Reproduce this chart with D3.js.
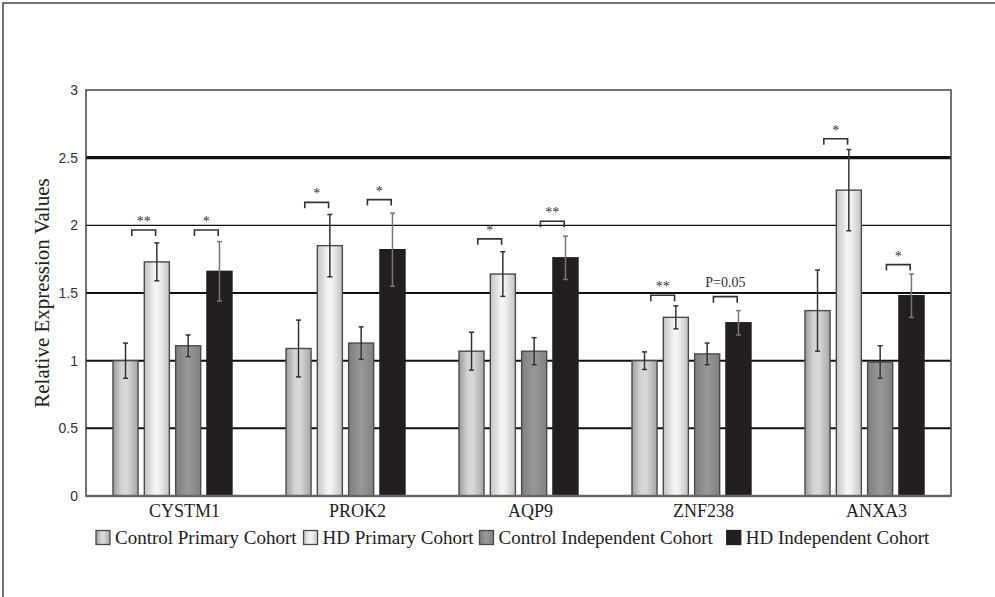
<!DOCTYPE html>
<html>
<head>
<meta charset="utf-8">
<script src="https://cdn.jsdelivr.net/npm/d3@7"></script>
<style>
	body { margin: 0; background: #fff; }
	svg { display: block; }
	.serif { font-family: "Liberation Serif", "Times New Roman", serif; }
	.sans { font-family: "Liberation Sans", Arial, sans-serif; }
</style>
</head>
<body>
<div id="chart"></div>
<script>
/* gene expression bar chart, four cohorts per gene */
var genes = ["CYSTM1", "PROK2", "AQP9", "ZNF238", "ANXA3"];
var cohorts = ["Control Primary Cohort", "HD Primary Cohort", "Control Independent Cohort", "HD Independent Cohort"];

// values per cohort, in gene order
var controlPrimary = [1.00, 1.09, 1.07, 1.00, 1.37];
var hdPrimary = [1.73, 1.85, 1.64, 1.32, 2.26];
var controlIndep = [1.11, 1.13, 1.07, 1.05, 0.99];
var hdIndep = [1.66, 1.82, 1.76, 1.28, 1.48];

// error bar half widths
var controlPrimaryErr = [0.13, 0.21, 0.14, 0.065, 0.30];
var hdPrimaryErr = [0.14, 0.23, 0.165, 0.085, 0.30];
var controlIndepErr = [0.08, 0.12, 0.10, 0.08, 0.12];
var hdIndepErr = [0.22, 0.27, 0.16, 0.09, 0.16];

var yTicks = [0, 0.5, 1, 1.5, 2, 2.5, 3];
var yTickLabels = ["0", "0.5", "1", "1.5", "2", "2.5", "3"];

// significance brackets: gene, from cohort, to cohort, height, label
var sigGene = ["CYSTM1", "CYSTM1", "PROK2", "PROK2", "AQP9", "AQP9", "ZNF238", "ZNF238", "ANXA3", "ANXA3"];
var sigFrom = [0, 2, 0, 2, 0, 2, 0, 2, 0, 2];
var sigTo = [1, 3, 1, 3, 1, 3, 1, 3, 1, 3];
var sigY = [1.965, 1.965, 2.17, 2.19, 1.90, 2.03, 1.483, 1.473, 2.64, 1.71];
var sigLabel = ["**", "*", "*", "*", "*", "**", "**", "P=0.05", "*", "*"];

var values = [controlPrimary, hdPrimary, controlIndep, hdIndep];
var errors = [controlPrimaryErr, hdPrimaryErr, controlIndepErr, hdIndepErr];

var width = 995, height = 597;
var plotLeft = 86, plotRight = 951, plotTop = 90, plotBottom = 496;

var svg = d3.select("#chart").append("svg")
	.attr("width", width)
	.attr("height", height);

// gradients for the shaded bars
var defs = svg.append("defs");
var gradStops = [
	[["0", "#9c9c9c"], ["0.35", "#d4d4d4"], ["0.55", "#d9d9d9"], ["1", "#a6a6a6"]],
	[["0", "#c4c4c4"], ["0.45", "#f6f6f6"], ["0.6", "#f0f0f0"], ["1", "#c2c2c2"]],
	[["0", "#7e7e7e"], ["0.5", "#999999"], ["1", "#808080"]],
	[["0", "#231f20"], ["1", "#231f20"]]
];
gradStops.forEach(function(stops, i) {
	var g = defs.append("linearGradient")
		.attr("id", "grad" + i)
		.attr("x1", 0).attr("x2", 1).attr("y1", 0).attr("y2", 0);
	stops.forEach(function(s) {
		g.append("stop").attr("offset", s[0]).attr("stop-color", s[1]);
	});
});

// outer frame (only top and left edge show)
svg.append("rect")
	.attr("x", 3).attr("y", 3)
	.attr("width", width + 10).attr("height", height + 10)
	.attr("fill", "none")
	.attr("stroke", "#444")
	.attr("stroke-width", 1.5);

var x0 = d3.scaleBand()
	.domain(genes)
	.range([plotLeft, plotRight])
	.padding(0);

var x1 = d3.scaleBand()
	.domain(d3.range(cohorts.length))
	.range([27, x0.bandwidth() - 27])
	.paddingInner(0.2)
	.paddingOuter(0);

var y = d3.scaleLinear()
	.domain([0, 3])
	.range([plotBottom, plotTop]);

var bw = x1.bandwidth();

// gridlines
var gridWidth = { 0.5: 2, 1: 2, 1.5: 2, 2: 1.2, 2.5: 3.2 };
svg.append("g").selectAll("line")
	.data(yTicks.filter(function(d) { return d > 0 && d < 3; }))
	.enter()
	.append("line")
	.attr("x1", plotLeft).attr("x2", plotRight)
	.attr("y1", function(d) { return y(d); })
	.attr("y2", function(d) { return y(d); })
	.attr("stroke", "#111")
	.attr("stroke-width", function(d) { return gridWidth[d]; });

// y axis tick labels
var yAxis = d3.axisLeft(y)
	.tickValues(yTicks)
	.tickFormat(function(d, i) { return yTickLabels[i]; })
	.tickSize(0)
	.tickPadding(8);

var ya = svg.append("g")
	.attr("transform", "translate(" + plotLeft + ",0)")
	.call(yAxis);
ya.attr("font-family", null).attr("font-size", null);
ya.select(".domain").remove();
ya.selectAll("text")
	.attr("class", "sans")
	.style("font-size", "14px")
	.attr("fill", "#333");

// bars
var groups = svg.append("g").selectAll("g")
	.data(genes)
	.enter()
	.append("g")
	.attr("transform", function(d) { return "translate(" + x0(d) + ",0)"; });

function barData(d, gi) {
	return values.map(function(v, si) { return { s: si, v: v[gi], e: errors[si][gi] }; });
}

groups.selectAll("rect")
	.data(barData)
	.enter()
	.append("rect")
	.attr("x", function(d) { return x1(d.s); })
	.attr("y", function(d) { return y(d.v); })
	.attr("width", bw)
	.attr("height", function(d) { return y(0) - y(d.v); })
	.attr("fill", function(d) { return "url(#grad" + d.s + ")"; })
	.attr("stroke", function(d) { return d.s == 3 ? "#231f20" : "#4a4a4a"; })
	.attr("stroke-width", 1.4);

// error bars
var errs = groups.selectAll("g.err")
	.data(barData)
	.enter()
	.append("g")
	.attr("class", "err")
	.attr("stroke", function(d) { return d.s == 3 ? "#777" : "#333"; })
	.attr("stroke-width", 1.5);

errs.append("line")
	.attr("x1", function(d) { return x1(d.s) + bw / 2; })
	.attr("x2", function(d) { return x1(d.s) + bw / 2; })
	.attr("y1", function(d) { return y(d.v + d.e); })
	.attr("y2", function(d) { return y(d.v - d.e); });
[1, -1].forEach(function(sign) {
	errs.append("line")
		.attr("x1", function(d) { return x1(d.s) + bw / 2 - 2.5; })
		.attr("x2", function(d) { return x1(d.s) + bw / 2 + 2.5; })
		.attr("y1", function(d) { return y(d.v + sign * d.e); })
		.attr("y2", function(d) { return y(d.v + sign * d.e); });
});

// plot frame
svg.append("rect")
	.attr("x", plotLeft).attr("y", plotTop)
	.attr("width", plotRight - plotLeft).attr("height", plotBottom - plotTop)
	.attr("fill", "none")
	.attr("stroke", "#444")
	.attr("stroke-width", 1.5);
svg.append("line")
	.attr("x1", plotLeft).attr("x2", plotRight)
	.attr("y1", plotBottom).attr("y2", plotBottom)
	.attr("stroke", "#666")
	.attr("stroke-width", 2.5);

// significance brackets
var sig = svg.append("g").selectAll("g")
	.data(sigGene.map(function(g, i) { return { g: g, a: sigFrom[i], b: sigTo[i], v: sigY[i], t: sigLabel[i] }; }))
	.enter()
	.append("g");

sig.append("path")
	.attr("d", function(d) {
		var xa = x0(d.g) + x1(d.a) + bw * 0.75;
		var xb = x0(d.g) + x1(d.b) + bw * 0.45;
		var yy = y(d.v);
		return "M" + xa + "," + (yy + 6) + "V" + yy + "H" + xb + "V" + (yy + 6);
	})
	.attr("fill", "none")
	.attr("stroke", "#333")
	.attr("stroke-width", 1.6);

sig.append("text")
	.attr("class", "serif")
	.attr("x", function(d) { return x0(d.g) + (x1(d.a) + x1(d.b)) / 2 + bw * 0.6; })
	.attr("y", function(d) { return y(d.v) - (d.t.indexOf("*") >= 0 ? 4 : 10); })
	.attr("text-anchor", "middle")
	.style("font-size", "14px")
	.attr("fill", "#333")
	.text(function(d) { return d.t; });

// gene labels
svg.append("g").selectAll("text")
	.data(genes)
	.enter()
	.append("text")
	.attr("class", "serif")
	.attr("x", function(d) { return x0(d) + x0.bandwidth() / 2 + 12; })
	.attr("y", 517)
	.attr("text-anchor", "middle")
	.style("font-size", "18px")
	.attr("fill", "#222")
	.text(function(d) { return d; });

// y title
svg.append("text")
	.attr("class", "serif")
	.attr("transform", "translate(49," + ((plotTop + plotBottom) / 2) + ") rotate(-90)")
	.attr("text-anchor", "middle")
	.style("font-size", "21px")
	.attr("fill", "#222")
	.text("Relative Expression Values");

// legend
var legend = svg.append("g");
var lx = 96;
var legendGap = [7, 6, 14, 0];
cohorts.forEach(function(c, i) {
	legend.append("rect")
		.attr("x", lx).attr("y", 530.5)
		.attr("width", 14).attr("height", 14)
		.attr("fill", "url(#grad" + i + ")")
		.attr("stroke", i == 3 ? "#231f20" : "#4a4a4a")
		.attr("stroke-width", 1.3);
	var t = legend.append("text")
		.attr("class", "serif")
		.attr("x", lx + 19)
		.attr("y", 544)
		.style("font-size", "19px")
		.attr("fill", "#222")
		.text(c);
	lx = lx + 19 + t.node().getComputedTextLength() + legendGap[i];
});
</script>
</body>
</html>
